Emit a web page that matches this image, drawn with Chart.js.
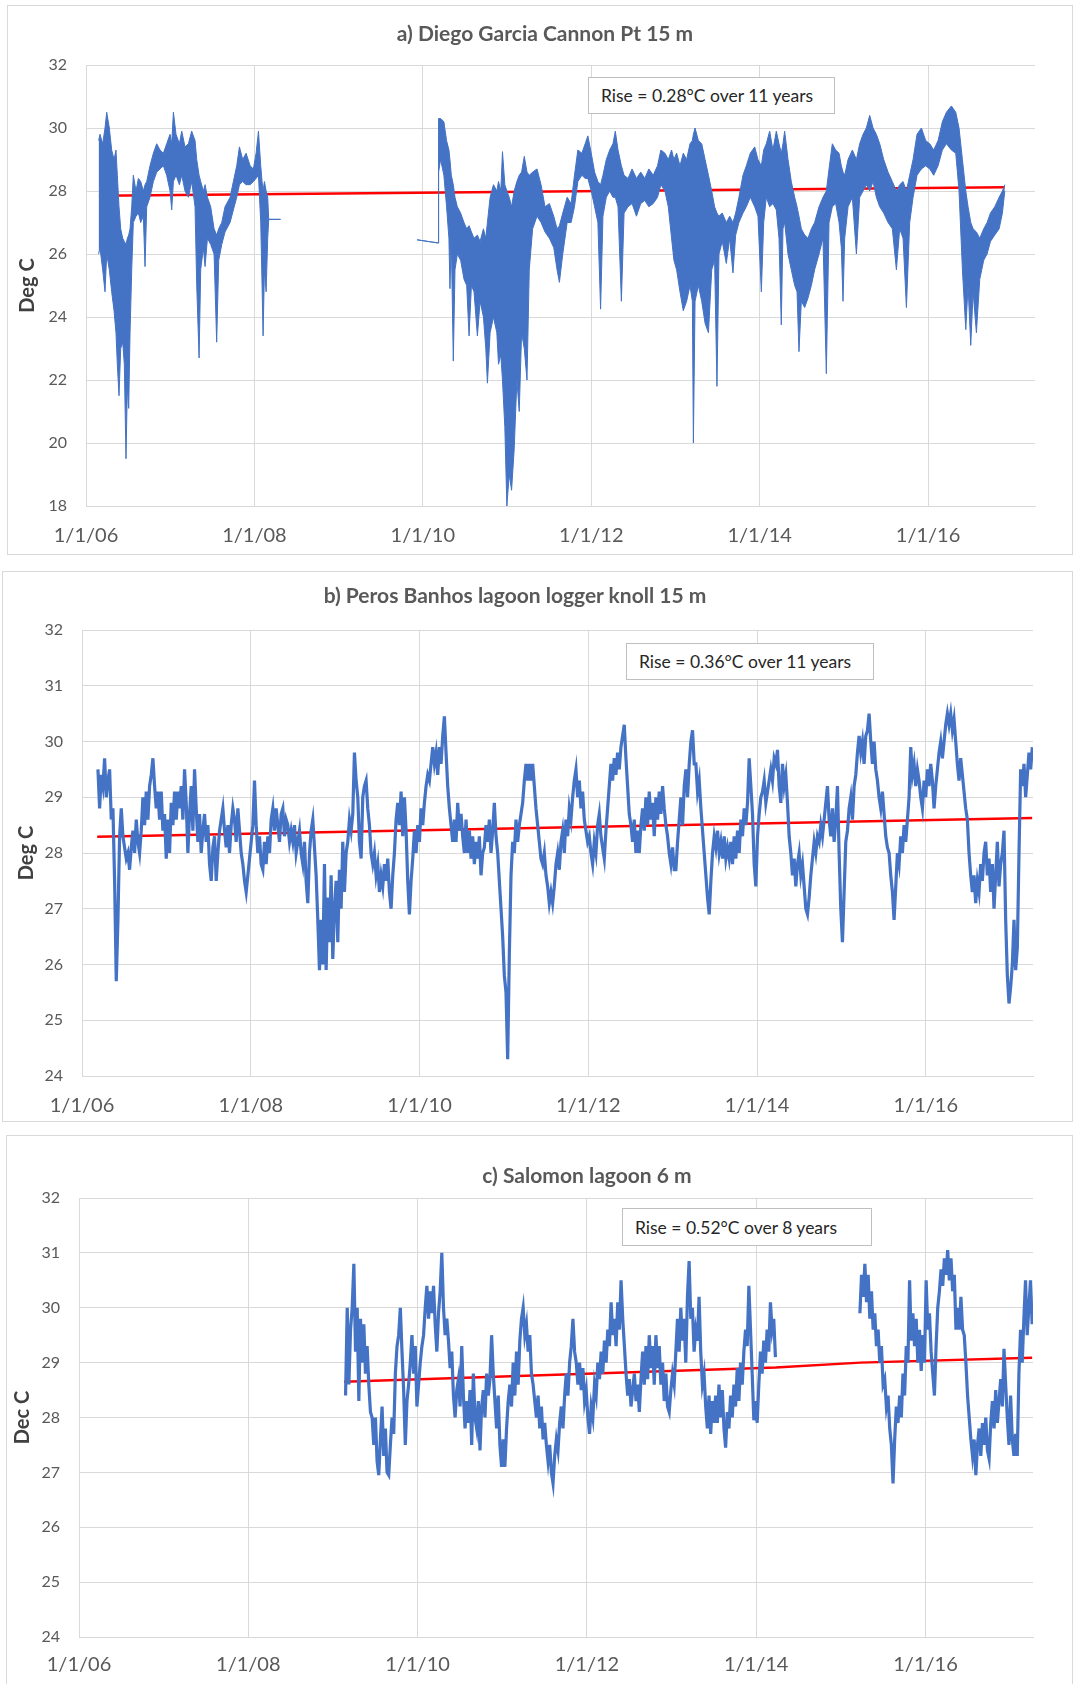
<!DOCTYPE html>
<html>
<head>
<meta charset="utf-8">
<script src="https://cdn.jsdelivr.net/npm/chart.js"></script>
<style>
html, body { margin:0; padding:0; background:#ffffff; }
body { position:relative; width:1073px; height:1684px; overflow:hidden; font-family: Lato, "Open Sans", sans-serif; }
.panel { position:absolute; border:1px solid #d9d9d9; box-sizing:border-box; background:#fff; }
canvas { position:absolute; left:0; }
.ttl { position:absolute; width:700px; text-align:center; font-family:Lato, sans-serif; font-weight:bold; font-size:21px; line-height:24px; color:#595959; white-space:nowrap; }
.rise { position:absolute; box-sizing:border-box; border:1px solid #bfbfbf; background:#fff; font-family:Lato, sans-serif; font-size:17.5px; color:#262626; padding-left:12px; display:flex; align-items:center; white-space:nowrap; }
</style>
</head>
<body>
<div class="panel" style="left:7px;top:5px;width:1066px;height:550px"></div>
<div class="panel" style="left:2px;top:571px;width:1071px;height:551px"></div>
<div class="panel" style="left:6px;top:1135px;width:1067px;height:560px"></div>
<canvas id="chartA" width="1073" height="560" style="top:0px"></canvas>
<canvas id="chartB" width="1073" height="560" style="top:565px"></canvas>
<canvas id="chartC" width="1073" height="559" style="top:1125px"></canvas>
<div class="ttl" style="left:195px;top:21px">a) Diego Garcia Cannon Pt 15 m</div>
<div class="ttl" style="left:165px;top:583px">b) Peros Banhos lagoon logger knoll 15 m</div>
<div class="ttl" style="left:237px;top:1163px">c) Salomon lagoon 6 m</div>
<div class="rise" style="left:588px;top:77px;width:247px;height:37px">Rise = 0.28°C over 11 years</div>
<div class="rise" style="left:626px;top:643px;width:248px;height:37px">Rise = 0.36°C over 11 years</div>
<div class="rise" style="left:622px;top:1208px;width:250px;height:38px">Rise = 0.52°C over 8 years</div>
<script>
// ---------- shared axis data ----------
const xTickYears  = [2006, 2008, 2010, 2012, 2014, 2016];
const xTickLabels = ['1/1/06', '1/1/08', '1/1/10', '1/1/12', '1/1/14', '1/1/16'];
const xMin = 2006, xMax = 2017.27;

// ---------- a) Diego Garcia Cannon Pt 15 m : daily band, read as high/low envelope ----------
const aDates = [
 2006.150,2006.166,2006.198,2006.226,2006.246,2006.277,2006.305,2006.333,2006.356,2006.372,
 2006.392,2006.412,2006.436,2006.455,2006.475,2006.491,2006.507,2006.523,2006.543,2006.562,
 2006.594,2006.622,2006.650,2006.681,2006.701,2006.721,2006.760,2006.800,2006.840,2006.879,
 2006.919,2006.958,2006.998,2007.018,2007.038,2007.069,2007.109,2007.137,2007.176,2007.216,
 2007.255,2007.295,2007.315,2007.343,2007.362,2007.394,2007.414,2007.442,2007.481,2007.521,
 2007.552,2007.576,2007.612,2007.651,2007.711,2007.750,2007.790,2007.822,2007.861,2007.901,
 2007.949,2007.988,2008.020,2008.048,2008.075,2008.091,2008.103,2008.119,2008.139,2008.158,
 2008.170,2008.310,2009.000,2009.932,2010.183,
 2010.187,2010.211,2010.250,2010.282,2010.310,2010.322,2010.338,2010.362,2010.382,2010.410,
 2010.449,2010.489,2010.521,2010.549,2010.577,2010.608,2010.648,2010.680,2010.720,2010.748,
 2010.767,2010.799,2010.839,2010.879,2010.899,2010.926,2010.946,2010.974,2010.998,2011.026,
 2011.054,2011.085,2011.117,2011.145,2011.173,2011.205,2011.237,2011.264,2011.304,2011.356,
 2011.404,2011.451,2011.503,2011.555,2011.594,2011.622,2011.662,2011.714,2011.761,2011.801,
 2011.841,2011.889,2011.928,2011.960,2012.000,2012.040,2012.079,2012.111,2012.139,2012.179,
 2012.219,2012.258,2012.286,2012.318,2012.358,2012.390,2012.437,2012.485,2012.537,2012.588,
 2012.636,2012.684,2012.736,2012.787,2012.827,2012.875,2012.915,2012.954,2012.982,2013.014,
 2013.054,2013.093,2013.133,2013.173,2013.201,2013.213,2013.233,2013.272,2013.312,2013.352,
 2013.392,2013.431,2013.465,2013.493,2013.517,2013.556,2013.604,2013.644,2013.683,2013.715,
 2013.754,2013.802,2013.842,2013.889,2013.941,2013.980,2014.020,2014.048,2014.079,2014.119,
 2014.158,2014.198,2014.230,2014.257,2014.277,2014.297,2014.337,2014.376,2014.416,2014.444,
 2014.467,2014.495,2014.535,2014.574,2014.614,2014.653,2014.705,2014.752,2014.792,2014.824,
 2014.863,2014.903,2014.943,2014.970,2014.990,2015.010,2015.050,2015.101,2015.149,2015.188,
 2015.228,2015.267,2015.307,2015.347,2015.386,2015.426,2015.473,2015.525,2015.576,2015.624,
 2015.663,2015.703,2015.743,2015.782,2015.822,2015.869,2015.921,2015.972,2016.020,2016.067,
 2016.119,2016.170,2016.218,2016.277,2016.329,2016.368,2016.408,2016.448,2016.475,2016.507,
 2016.535,2016.574,2016.614,2016.661,2016.701,2016.741,2016.792,2016.844,2016.883,2016.911
];
const aHigh = [
 29.6,29.8,29.5,30.0,30.5,30.0,29.3,29.0,29.3,28.5,
 27.5,26.8,26.5,26.4,26.3,26.5,26.6,26.8,27.5,28.5,
 28.0,28.4,28.3,28.0,28.2,28.3,28.8,29.2,29.5,29.3,
 29.2,29.5,29.8,29.5,30.5,29.8,29.5,29.9,29.4,29.5,
 29.9,29.6,29.0,28.5,28.3,28.0,28.2,27.8,27.5,26.8,
 26.6,26.8,27.0,27.5,27.8,28.3,28.8,29.4,29.0,29.2,
 28.8,28.7,29.2,29.9,28.8,28.3,28.0,28.3,28.0,27.8,
 27.1,27.1,null,26.45,26.35,
 30.3,30.3,30.2,29.6,29.3,29.0,28.5,28.2,27.8,27.5,
 27.3,27.0,26.8,26.9,26.7,26.5,26.6,26.4,26.8,26.5,
 27.0,27.8,28.2,28.0,28.3,28.0,29.25,28.2,28.0,27.8,
 27.5,28.0,28.3,28.5,28.6,29.1,28.6,28.5,28.6,28.7,
 28.2,27.5,27.6,27.2,26.8,26.9,27.3,27.8,27.6,28.5,
 29.3,29.2,29.5,29.75,29.2,28.6,28.3,28.2,28.5,29.0,
 29.3,29.5,29.9,29.3,28.8,28.5,28.4,28.7,28.4,28.6,
 28.4,28.7,28.5,28.8,29.3,29.2,29.0,29.3,29.0,29.2,
 28.8,29.2,29.0,29.5,29.6,29.8,30.0,29.6,29.5,29.0,
 28.5,28.0,27.5,27.3,27.2,27.3,27.0,27.2,27.0,27.3,
 27.8,28.5,28.8,29.2,29.4,29.0,28.8,29.3,29.5,29.9,
 29.3,29.9,29.5,29.2,29.5,29.9,29.0,28.3,27.8,27.5,
 27.2,26.8,26.6,26.5,26.8,27.0,27.5,27.8,28.0,28.7,
 29.5,29.3,29.2,28.8,28.6,28.5,29.0,29.3,29.0,29.5,
 29.8,30.0,30.4,30.0,29.8,29.5,29.0,28.6,28.3,28.0,
 28.2,28.3,28.0,28.5,29.0,29.8,30.0,29.6,29.5,29.3,
 29.6,30.2,30.5,30.7,30.5,30.0,29.0,28.0,27.5,27.0,
 26.8,26.7,26.5,26.8,27.0,27.3,27.5,27.8,28.0,28.2
];
const aLow = [
 26.0,26.2,25.5,24.8,26.0,25.5,24.8,24.2,23.5,22.5,
 21.5,23.0,23.2,22.5,19.5,21.8,21.1,23.5,25.5,27.0,
 27.2,27.3,27.0,27.2,25.6,27.5,27.8,28.3,28.6,28.7,
 28.8,28.5,28.0,27.4,28.3,28.5,28.2,28.5,28.0,27.8,
 28.3,27.5,25.0,22.7,25.5,26.2,25.6,26.5,26.3,26.0,
 23.2,25.8,26.3,26.7,27.0,27.4,27.8,28.2,28.3,28.2,
 28.2,28.3,28.4,28.5,27.0,25.0,23.4,25.5,24.8,26.5,
 27.1,27.1,null,26.45,26.35,
 28.6,29.0,28.5,27.5,26.5,24.9,26.5,22.6,25.5,26.0,
 25.8,25.2,25.0,23.4,25.0,24.8,23.4,24.5,24.0,23.0,
 21.9,23.5,24.0,23.5,22.5,22.8,22.0,20.5,18.0,19.0,
 18.5,19.8,22.0,21.0,23.5,23.0,22.0,25.5,26.8,27.2,
 27.0,26.7,26.5,26.2,25.5,25.1,26.0,27.0,27.0,27.5,
 28.3,28.5,28.4,28.4,28.0,27.5,27.0,24.25,27.2,27.8,
 28.0,27.8,27.8,27.5,24.5,27.3,27.5,27.6,27.2,27.6,
 27.7,27.5,27.6,27.8,28.2,28.0,27.5,26.5,25.8,25.5,
 24.8,24.2,24.5,25.0,24.5,20.0,24.5,25.0,24.5,23.8,
 23.5,25.5,25.8,21.8,26.0,26.4,25.7,26.5,25.4,26.6,
 27.0,27.3,27.5,27.8,27.5,27.2,24.8,27.0,27.8,27.5,
 27.6,27.4,26.5,23.75,26.8,27.0,26.0,25.5,25.0,24.8,
 22.9,24.5,24.3,24.6,25.0,25.5,26.0,26.5,22.2,27.0,
 27.5,27.6,27.0,26.2,24.5,26.5,27.5,27.8,26.0,27.8,
 28.0,28.2,28.0,28.3,27.8,27.5,27.3,27.0,26.8,25.5,
 26.8,26.5,24.3,27.0,27.8,28.5,28.7,28.8,28.7,28.5,
 28.8,29.3,29.5,29.3,29.2,28.0,25.5,23.6,25.0,23.1,
 24.8,23.5,25.2,25.8,26.0,26.4,26.6,26.8,27.3,28.0
];
const aTrendDates = [2006.154, 2016.911];
const aTrendTemps = [27.85, 28.12];

// ---------- b) Peros Banhos lagoon logger knoll 15 m : readings at a regular interval ----------
const bFirstDate = 2006.189, bLastDate = 2017.262;
const bTemps = [
 29.5,28.8,29.4,29.2,29.7,29.0,29.3,29.5,28.6,28.8,
 27.5,25.7,26.8,28.3,28.8,28.3,28.1,27.9,28.0,27.7,
 28.1,28.4,28.0,28.6,28.2,28.0,28.4,29.0,28.5,29.1,
 28.6,29.2,29.4,29.7,29.2,28.8,29.1,28.6,29.1,28.4,
 28.7,27.9,28.6,28.0,28.9,28.5,29.1,28.6,29.1,28.8,
 29.2,28.6,29.5,28.9,28.0,28.7,29.2,28.4,29.5,28.8,
 28.2,28.7,28.0,28.4,28.7,28.2,28.5,27.8,27.5,28.1,
 28.3,27.5,28.0,28.4,28.6,28.8,28.4,28.1,28.5,28.0,
 28.5,28.8,28.6,28.2,28.8,28.4,28.0,27.8,27.5,27.3,
 27.6,27.9,28.2,28.5,29.3,28.5,28.0,28.3,27.8,27.7,
 28.2,27.8,28.3,28.0,28.6,28.8,28.4,28.8,28.5,28.2,
 28.7,28.8,28.3,28.6,28.5,28.2,28.4,28.2,28.5,28.0,
 28.2,28.4,28.0,27.8,28.2,27.5,27.1,28.0,28.4,28.6,
 28.1,27.6,26.8,25.9,26.8,26.0,27.8,25.9,27.2,26.4,
 27.6,26.1,27.0,27.5,26.4,27.7,27.0,28.2,27.3,28.0,
 28.2,28.6,28.4,28.7,29.8,29.3,29.0,28.2,27.9,29.0,
 29.2,29.3,28.8,28.5,28.0,27.8,28.0,27.6,27.8,27.3,
 27.6,27.4,27.8,27.5,27.9,27.3,27.0,27.6,28.0,28.6,
 28.9,
 28.5,29.1,28.3,29.0,28.4,27.5,26.9,27.5,27.9,28.4,
 28.0,28.5,28.2,28.8,28.5,28.9,29.2,29.4,29.3,29.6,
 29.9,29.6,29.8,29.4,29.9,29.6,30.1,30.45,29.8,29.2,
 28.8,28.5,28.2,28.6,28.2,28.9,28.4,28.7,28.3,28.0,
 28.6,28.0,28.4,27.9,28.3,27.8,28.2,27.9,28.3,27.6,
 28.0,28.1,28.5,28.2,28.6,28.0,28.4,28.9,28.3,28.0,
 27.5,27.0,26.5,25.8,25.5,24.3,26.2,27.6,28.2,28.0,
 28.6,28.2,28.5,28.7,28.9,29.3,29.6,29.3,29.6,29.3,
 29.6,29.2,28.8,28.5,28.2,27.9,27.8,28.0,27.6,27.4,
 27.1,27.3,27.1,27.4,27.8,28.0,27.7,28.2,28.4,28.0,
 28.6,28.3,28.8,28.6,29.0,29.3,29.5,29.0,29.3,28.8,
 29.1,28.6,28.4,28.2,28.3,28.0,27.8,28.2,28.0,28.5,
 28.7,28.3,28.1,27.9,28.4,28.8,29.2,29.6,29.3,29.7,
 29.4,29.8,29.5,29.9,30.1,30.3,29.7,29.2,28.7,28.5,
 28.2,28.6,28.0,28.4,28.0,28.5,28.8,28.4,29.0,28.5,
 29.1,28.6,28.9,28.3,29.0,28.6,29.1,28.7,29.2,28.8,
 28.5,28.3,28.0,27.8,28.1,27.7,27.7,28.2,28.6,29.0,
 28.5,29.2,29.5,29.0,29.6,30.0,30.2,29.6,29.6,29.1,
 29.3,28.8,28.4,28.0,27.6,27.2,26.9,27.5,28.0,28.3,
 28.1,28.4,28.0,28.2,27.9,28.3,27.9,28.1,
 27.9,28.2,27.8,28.3,27.9,28.4,28.0,28.6,28.3,28.8,
 28.5,28.9,29.7,29.2,28.7,27.8,27.4,28.3,28.7,29.0,
 29.1,29.3,28.9,29.1,29.3,29.5,29.3,29.7,29.6,29.85,
 29.2,28.9,29.6,29.2,29.4,28.9,28.3,28.0,27.6,27.9,
 27.4,27.8,28.0,27.6,27.8,27.4,27.0,26.9,27.2,27.6,
 27.9,28.2,28.0,28.3,28.2,28.5,28.3,28.6,28.9,29.2,
 28.6,28.3,28.8,28.2,28.6,29.2,28.0,27.0,26.4,27.3,
 28.2,28.4,28.8,29.0,28.6,29.2,29.4,29.8,30.1,29.8,
 30.0,29.6,30.1,30.2,30.5,30.0,29.6,30.0,29.5,29.3,
 29.0,28.8,29.1,28.7,28.3,28.1,28.0,27.6,27.3,26.8,
 27.4,28.0,27.8,28.3,28.0,28.5,28.2,28.6,29.0,29.9,
 29.4,29.6,29.2,29.5,29.3,29.0,28.8,29.3,29.0,29.5,
 29.2,29.6,29.3,28.8,29.2,29.5,29.8,30.0,29.7,30.0,
 30.3,30.5,30.3,30.5,30.2,30.4,30.0,29.6,29.3,29.7,
 29.4,29.1,28.8,28.6,28.0,27.6,27.3,27.6,27.1,27.5,
 27.3,27.8,27.5,28.0,28.2,27.6,27.9,27.3,27.8,27.0,
 27.6,28.2,27.4,27.8,28.0,28.4,26.8,25.8,25.3,25.6,
 26.0,26.8,25.9,26.3,28.0,29.5,29.2,29.6,29.0,29.4,
 29.8,29.5,29.9
];
const bTrendDates = [2006.18, 2017.26];
const bTrendTemps = [28.29, 28.63];

// ---------- c) Salomon lagoon 6 m : two logger deployments, regular interval readings ----------
const c1FirstDate = 2009.149, c1LastDate = 2014.227;
const c1Temps = [
 28.4,30.0,28.6,29.6,30.0,30.8,29.2,30.0,28.3,29.8,
 29.0,29.7,28.8,29.3,28.6,28.1,28.0,27.5,28.0,27.2,
 26.95,27.6,28.2,27.3,27.8,27.0,26.95,27.5,28.0,27.7,
 28.8,29.3,29.5,30.0,29.2,28.5,27.5,28.3,28.6,29.0,
 29.5,28.8,29.3,28.2,28.6,29.0,29.3,29.5,30.0,30.4,
 29.8,30.3,29.9,30.4,29.7,29.2,29.9,30.3,31.0,30.0,
 29.5,29.8,29.4,28.9,29.2,28.4,28.0,28.5,28.7,28.2,
 29.3,28.4,27.8,28.3,27.9,28.5,27.5,28.8,28.0,27.8,
 28.3,27.4,28.2,28.5,28.0,28.8,28.4,28.7,29.5,28.8,
 28.3,27.8,28.4,27.5,27.1,27.6,27.1,27.8,28.3,28.6,
 28.2,29.0,28.4,29.2,28.6,29.4,29.8,30.0,29.5,29.7,
 29.2,29.5,28.8,28.6,28.3,28.0,28.4,27.8,28.2,27.6,
 27.9,27.5,27.2,27.5,27.0,26.8,27.3,27.6,27.4,27.9,
 28.2,27.8,28.4,28.8,28.4,29.0,29.3,29.8,29.2,29.0,
 28.6,29.0,28.5,28.9,28.3,28.5,28.0,27.7,28.2,28.0,
 28.6,28.4,29.0,28.7,29.2,28.8,29.4,29.0,29.6,29.3,
 30.1,29.5,29.8,29.3,30.1,29.6,30.5,29.8,29.3,28.8,
 28.4,28.7,28.2,28.5,28.8,28.3,28.6,28.1,28.7,29.2,
 28.6,29.3,28.7,29.5,28.9,29.3,28.6,29.5,28.9,29.3,
 28.6,29.0,28.3,28.8,28.2,28.1,28.5,28.8,28.6,29.2,
 29.8,29.2,30.0,29.4,29.8,29.0,30.2,30.85,29.8,30.0,
 29.2,29.6,29.4,
 30.2,29.2,28.6,28.8,28.2,27.8,28.4,27.7,28.3,27.9,
 28.4,27.9,28.6,28.0,28.5,27.8,27.45,28.1,27.8,28.4,
 28.0,28.6,28.2,28.9,28.3,29.0,28.6,29.2,29.6,29.3,
 30.4,29.6,28.8,27.95,28.3,27.9,28.6,29.2,28.8,29.4,
 29.0,29.6,29.2,30.1,29.6,29.8,29.1
];
const c2FirstDate = 2015.225, c2LastDate = 2017.260;
const c2Temps = [
 29.9,30.6,30.2,30.8,30.1,30.6,29.8,30.3,29.6,29.9,
 29.3,29.6,29.0,29.3,28.6,28.7,28.2,28.4,27.8,27.5,
 26.8,27.6,28.2,27.9,28.4,28.0,28.8,28.4,29.3,29.0,
 30.5,29.4,29.9,29.3,29.8,29.0,29.6,28.85,29.5,29.0,
 30.5,29.6,29.9,29.2,28.8,28.4,29.3,30.0,30.3,30.7,
 30.4,30.9,30.6,31.05,30.5,30.9,30.3,30.6,29.6,30.0,
 29.6,30.2,29.6,29.5,29.0,28.4,28.0,27.6,27.3,27.6,
 26.95,27.5,27.8,27.3,27.9,27.5,28.0,27.4,27.25,27.9,
 28.3,27.8,28.5,27.9,28.3,28.7,28.2,29.25,28.6,28.0,
 27.5,28.4,27.6,27.3,27.7,27.3,28.8,29.6,29.0,29.8,
 30.5,29.5,30.0,30.5,29.7
];
const cTrendDates = [2009.13, 2014.23, 2015.23, 2017.26];
const cTrendTemps = [28.65, 28.91, 29.00, 29.09];

// ---------- helpers ----------
const BLUE = '#4472C4', RED = '#FF0000';
Chart.defaults.font.family = 'Lato, "Open Sans", sans-serif';

function pairs(dates, temps) { return dates.map((d, i) => ({ x: d, y: temps[i] })); }
function regular(first, last, temps) {
  const step = (last - first) / (temps.length - 1);
  return temps.map((t, i) => ({ x: first + i * step, y: t }));
}

function makeChart(id, datasets, g) {
  return new Chart(document.getElementById(id), {
    type: 'line',
    data: { datasets },
    options: {
      responsive: false, animation: false, events: [],
      layout: { padding: { left: 10, right: g.padRight, top: g.padTop, bottom: 0 } },
      elements: { point: { radius: 0 }, line: { tension: 0 } },
      plugins: { legend: { display: false }, tooltip: { enabled: false }, title: { display: false } },
      scales: {
        x: {
          type: 'linear', min: xMin, max: xMax,
          afterFit: s => { s.height = g.xHeight; },
          afterBuildTicks: s => { s.ticks = xTickYears.map(v => ({ value: v })); },
          ticks: {
            autoSkip: false, maxRotation: 0, minRotation: 0,
            padding: g.xPad, color: '#595959', font: { size: 20 },
            callback: v => xTickLabels[xTickYears.indexOf(v)]
          },
          grid: { color: '#d9d9d9', lineWidth: 1, drawTicks: false },
          border: { display: true, color: '#d9d9d9' }
        },
        y: {
          min: g.yMin, max: g.yMax,
          afterFit: s => { s.width = g.yWidth; },
          ticks: { stepSize: g.yStep, padding: 19, color: '#595959', font: { size: 16 } },
          grid: { color: '#d9d9d9', lineWidth: 1, drawTicks: false },
          border: { display: true, color: '#d9d9d9' },
          title: { display: true, text: g.yTitle, color: '#404040',
                   font: { size: 20, weight: 'bold' }, padding: { top: g.yTitlePad, bottom: 0 } }
        }
      }
    }
  });
}

// ---------- a ----------
makeChart('chartA', [
  { data: pairs(aDates, aHigh), borderColor: BLUE, borderWidth: 1, fill: false, spanGaps: false },
  { data: pairs(aDates, aLow), borderColor: BLUE, borderWidth: 1, fill: '-1', backgroundColor: BLUE, spanGaps: false },
  { data: pairs(aTrendDates, aTrendTemps), borderColor: RED, borderWidth: 2.5, fill: false }
], { padRight: 38, padTop: 65, xHeight: 54, xPad: 18, yWidth: 76, yMin: 18, yMax: 32, yStep: 2, yTitle: 'Deg C', yTitlePad: 6 });

// ---------- b ----------
makeChart('chartB', [
  { data: regular(bFirstDate, bLastDate, bTemps), borderColor: BLUE, borderWidth: 3.2, fill: false },
  { data: pairs(bTrendDates, bTrendTemps), borderColor: RED, borderWidth: 2.5, fill: false }
], { padRight: 40, padTop: 65, xHeight: 49, xPad: 18, yWidth: 72, yMin: 24, yMax: 32, yStep: 1, yTitle: 'Deg C', yTitlePad: 4.5 });

// ---------- c ----------
makeChart('chartC', [
  { data: regular(c1FirstDate, c1LastDate, c1Temps).concat([{ x: 2014.7, y: null }], regular(c2FirstDate, c2LastDate, c2Temps)),
    borderColor: BLUE, borderWidth: 3.2, fill: false, spanGaps: false },
  { data: pairs(cTrendDates, cTrendTemps), borderColor: RED, borderWidth: 2.5, fill: false }
], { padRight: 40, padTop: 73, xHeight: 47, xPad: 16, yWidth: 69, yMin: 24, yMax: 32, yStep: 1, yTitle: 'Dec C', yTitlePad: 1 });
</script>
</body>
</html>
